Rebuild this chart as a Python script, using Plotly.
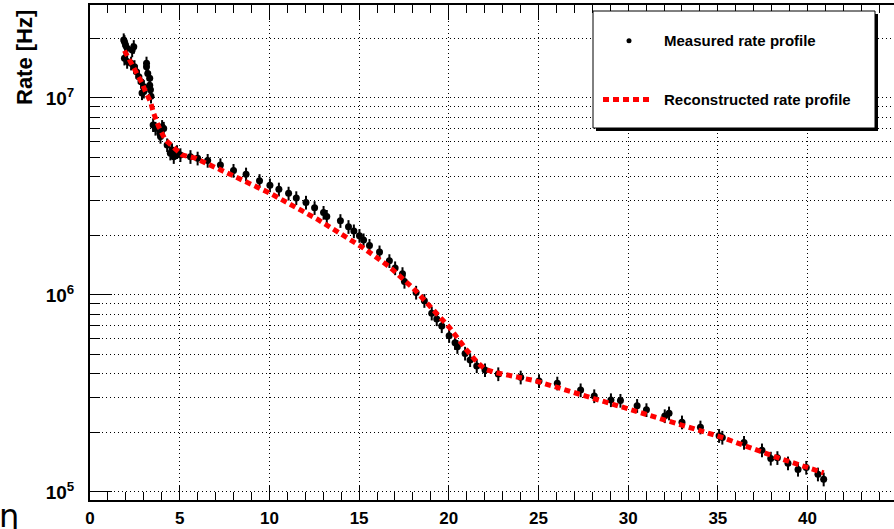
import plotly.graph_objects as go

# ---- data ----
eta_meas = [1.88, 1.92, 1.98, 2.07, 1.92, 2.07, 2.35, 2.44, 2.29, 2.48, 2.59, 2.72, 2.85, 2.90,
            3.00, 3.00, 3.15, 3.15, 3.22, 3.33, 3.33, 3.37, 3.40, 3.52, 3.65, 3.89, 3.93, 4.02,
            4.11, 4.30, 4.48, 4.57, 4.67, 4.85, 5.04, 5.60, 6.00, 6.56, 7.27, 8.00, 8.70, 9.45,
            10.03, 10.53, 11.07, 11.50, 12.04, 12.52, 13.02, 13.20, 13.96, 14.41, 14.71, 15.02,
            15.25, 15.58, 16.14, 16.69, 17.01, 17.42, 17.53, 18.18, 18.64, 19.05, 19.33, 19.61,
            20.02, 20.35, 20.48, 20.91, 21.19, 21.56, 22.02, 22.76, 24.01, 25.03, 26.05, 27.35,
            28.11, 29.04, 29.57, 30.50, 31.02, 32.04, 32.28, 33.00, 34.03, 35.07, 35.25, 36.46,
            37.46, 37.95, 38.32, 38.91, 39.47, 39.93, 40.58, 40.90]
rate_meas = [1.97e7, 1.93e7, 1.86e7, 1.79e7, 1.59e7, 1.53e7, 1.75e7, 1.82e7, 1.50e7, 1.44e7,
             1.36e7, 1.28e7, 1.21e7, 1.06e7, 1.14e7, 1.08e7, 1.50e7, 1.44e7, 1.33e7, 1.26e7,
             1.16e7, 1.10e7, 1.02e7, 7.3e6, 7.0e6, 6.62e6, 6.37e6, 7.15e6, 7.0e6, 5.77e6,
             5.24e6, 5.45e6, 5.03e6, 5.33e6, 5.14e6, 5.03e6, 4.94e6, 4.81e6, 4.57e6, 4.28e6,
             4.10e6, 3.80e6, 3.61e6, 3.44e6, 3.28e6, 3.11e6, 2.95e6, 2.77e6, 2.62e6, 2.50e6,
             2.38e6, 2.22e6, 2.11e6, 2.00e6, 1.90e6, 1.78e6, 1.65e6, 1.49e6, 1.37e6, 1.28e6,
             1.17e6, 1.03e6, 9.35e5, 8.07e5, 7.55e5, 6.96e5, 6.21e5, 5.72e5, 5.46e5, 5.05e5,
             4.68e5, 4.36e5, 4.16e5, 3.97e5, 3.82e5, 3.66e5, 3.56e5, 3.29e5, 3.07e5, 2.93e5,
             2.91e5, 2.74e5, 2.61e5, 2.43e5, 2.51e5, 2.26e5, 2.13e5, 1.93e5, 1.89e5, 1.78e5,
             1.63e5, 1.48e5, 1.49e5, 1.40e5, 1.30e5, 1.33e5, 1.23e5, 1.16e5]
rate_err_pct = 8

eta_reco = [1.92, 2.25, 2.53, 2.90, 3.09, 3.37, 3.55, 3.83, 4.20, 4.67, 5.13, 5.87, 6.53, 8.0,
            10.05, 12.65, 15.25, 16.69, 18.03, 19.61, 20.03, 21.0, 21.56, 22.02, 22.58, 24.8,
            28.8, 31.58, 35.1, 38.45, 40.9]
rate_reco = [1.74e7, 1.53e7, 1.39e7, 1.19e7, 1.08e7, 9.58e6, 8.36e6, 7.15e6, 6.12e6, 5.56e6,
             5.14e6, 4.95e6, 4.66e6, 4.02e6, 3.28e6, 2.43e6, 1.73e6, 1.39e6, 1.08e6, 7.46e5,
             6.85e5, 5.25e5, 4.58e5, 4.20e5, 4.04e5, 3.67e5, 2.84e5, 2.39e5, 1.91e5, 1.48e5,
             1.25e5]

x_range = [0, 44.82]
y_range_log = [4.959, 7.472]
y_major = [1e5, 1e6, 1e7]
y_major_text = ["10<sup>5</sup>", "10<sup>6</sup>", "10<sup>7</sup>"]
y_minor = [m * 10 ** e for e in (5, 6, 7) for m in range(2, 10)]

legend_labels = ["Measured rate profile", "Reconstructed rate profile"]
x_title = "η"
y_title = "Rate [Hz]"

FONT = "Liberation Sans, Arial, Helvetica, sans-serif"
GRIDDASH = "1px,3px"

fig = go.Figure()
fig.add_trace(go.Scatter(
    x=eta_meas, y=rate_meas, mode="markers",
    marker=dict(color="black", size=7, symbol="circle"),
    error_y=dict(type="percent", value=rate_err_pct, color="black", thickness=2, width=0),
    showlegend=False))
fig.add_trace(go.Scatter(
    x=eta_reco, y=rate_reco, mode="lines",
    line=dict(color="#ff0000", width=5, dash="6px,4px"),
    showlegend=False))

W, H = 894, 529
# plot area extends past the right edge of the page, like the reference crop
L, R, T, B = 90, 0, 5, 29
EXTRA = 12
pw, ph = W + EXTRA - L - R, H - T - B


def px(xp):
    return (xp - L) / pw


def py(yp):
    return (H - B - yp) / ph


shapes = []
annotations = []
# legend box with shadow
shapes.append(dict(type="rect", xref="paper", yref="paper", x0=px(596), x1=px(878), y0=py(131),
                   y1=py(14), fillcolor="black", line=dict(width=0), layer="above"))
shapes.append(dict(type="rect", xref="paper", yref="paper", x0=px(593), x1=px(875), y0=py(128),
                   y1=py(11), fillcolor="white", line=dict(color="black", width=1), layer="above"))
shapes.append(dict(type="circle", xref="paper", yref="paper", x0=px(626.5), x1=px(631.5),
                   y0=py(43.2), y1=py(38.2), fillcolor="black", line=dict(width=0), layer="above"))
shapes.append(dict(type="line", xref="paper", yref="paper", x0=px(603), x1=px(651), y0=py(99.5),
                   y1=py(99.5), line=dict(color="#ff0000", width=5, dash="6px,4px"), layer="above"))
annotations.append(dict(xref="paper", yref="paper", x=px(662), y=py(40.5), text=legend_labels[0],
                        showarrow=False, xanchor="left", yanchor="middle",
                        font=dict(family=FONT, size=15, color="black", weight="bold")))
annotations.append(dict(xref="paper", yref="paper", x=px(662), y=py(99.5), text=legend_labels[1],
                        showarrow=False, xanchor="left", yanchor="middle",
                        font=dict(family=FONT, size=15, color="black", weight="bold")))
# axis titles
annotations.append(dict(xref="paper", yref="paper", x=px(24), y=py(58), text=y_title,
                        showarrow=False, textangle=-90, xanchor="center", yanchor="middle",
                        font=dict(family=FONT, size=22, color="black", weight="bold")))
annotations.append(dict(xref="paper", yref="paper", x=px(9), y=py(516), text=x_title,
                        showarrow=False, xanchor="center", yanchor="middle",
                        font=dict(family="DejaVu Sans, sans-serif", size=32, color="black")))

x_range_ext = [x_range[0], x_range[1] * (pw / (W - L))]

fig.update_layout(
    width=W + EXTRA, height=H,
    margin=dict(l=L, r=R, t=T, b=B, pad=0),
    paper_bgcolor="white", plot_bgcolor="white",
    shapes=shapes, annotations=annotations,
    xaxis=dict(range=x_range_ext, dtick=5, tick0=0, ticks="inside", ticklen=15, tickwidth=1,
               tickcolor="black", showline=True, linecolor="black", linewidth=2,
               mirror="allticks", showgrid=True, gridcolor="black", gridwidth=1, griddash=GRIDDASH,
               zeroline=False,
               tickfont=dict(family=FONT, size=17, color="black", weight="bold"),
               ticklabelstandoff=2,
               minor=dict(dtick=1, ticks="inside", ticklen=8, tickcolor="black", showgrid=False)),
    yaxis=dict(type="log", range=y_range_log, tickvals=y_major, ticktext=y_major_text,
               ticks="inside", ticklen=22, tickwidth=1, tickcolor="black",
               showline=True, linecolor="black", linewidth=2, mirror=False,
               showgrid=True, gridcolor="black", gridwidth=1, griddash=GRIDDASH, zeroline=False,
               tickfont=dict(family=FONT, size=19, color="black", weight="bold"),
               ticklabelstandoff=10,
               minor=dict(tickvals=y_minor, ticks="inside", ticklen=10, tickcolor="black",
                          showgrid=True, gridcolor="black", gridwidth=1, griddash=GRIDDASH)),
)

fig.write_html("out.html", config={"displayModeBar": False, "staticPlot": True},
               post_script="document.body.style.margin='0';document.body.style.overflow='hidden';")
